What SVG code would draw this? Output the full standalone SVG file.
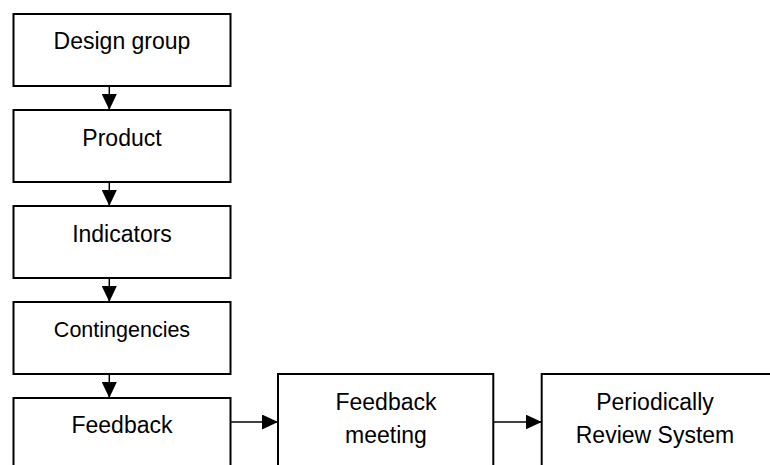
<svg xmlns="http://www.w3.org/2000/svg" width="770" height="465" viewBox="0 0 770 465">
<defs>
<style>
.box{fill:#fff;stroke:#000;stroke-width:2}
.t{font-family:"Liberation Sans",Arial,sans-serif;font-size:23px;fill:#000;text-anchor:middle}
.c{stroke:#000;stroke-width:1.5;fill:none}
</style>
<marker id="ah" viewBox="0 0 16 15" refX="16" refY="7.5" markerWidth="16" markerHeight="15" markerUnits="userSpaceOnUse" orient="auto">
<path d="M0,0 L16,7.5 L0,15 Z" fill="#000"/>
</marker>
</defs>
<rect width="770" height="465" fill="#fff"/>
<g id="n1"><rect class="box" x="13.5" y="14" width="217" height="72"/><text class="t" x="122" y="49">Design group</text></g>
<g id="n2"><rect class="box" x="13.5" y="110" width="217" height="72"/><text class="t" x="122" y="145.5">Product</text></g>
<g id="n3"><rect class="box" x="13.5" y="206" width="217" height="72"/><text class="t" x="122" y="242">Indicators</text></g>
<g id="n4"><rect class="box" x="13.5" y="302" width="217" height="72"/><text class="t" x="122" y="336.5" style="font-size:21.5px">Contingencies</text></g>
<g id="n5"><rect class="box" x="13.5" y="398" width="217" height="80"/><text class="t" x="122" y="432.5">Feedback</text></g>
<g id="n6"><rect class="box" x="278" y="374" width="215.3" height="104"/><text class="t" x="386" y="409.5">Feedback</text><text class="t" x="386" y="442.5">meeting</text></g>
<g id="n7"><rect class="box" x="541.7" y="374" width="240" height="104"/><text class="t" x="655" y="409.5">Periodically</text><text class="t" x="655" y="442.5">Review System</text></g>
<g id="connectors">
<line class="c" x1="109.3" y1="86" x2="109.3" y2="110" marker-end="url(#ah)"/>
<line class="c" x1="109.3" y1="182" x2="109.3" y2="206" marker-end="url(#ah)"/>
<line class="c" x1="109.3" y1="278" x2="109.3" y2="302" marker-end="url(#ah)"/>
<line class="c" x1="109.3" y1="374" x2="109.3" y2="398" marker-end="url(#ah)"/>
<line class="c" x1="230.5" y1="422" x2="278" y2="422" marker-end="url(#ah)"/>
<line class="c" x1="493.3" y1="422" x2="541.7" y2="422" marker-end="url(#ah)"/>
</g>
</svg>
